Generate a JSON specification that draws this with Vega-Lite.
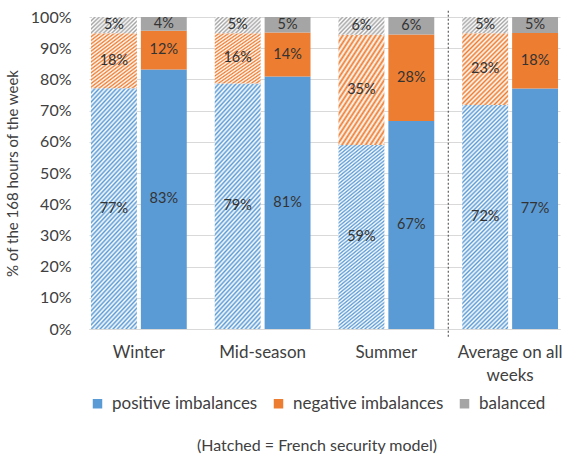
{
  "$schema": "https://vega.github.io/schema/vega-lite/v6.json",
  "width": 471,
  "height": 312,
  "autosize": {"type": "none"},
  "padding": {"left": 89, "top": 17, "right": 9, "bottom": 130},
  "background": "white",
  "config": {
    "font": "Lato",
    "view": {"stroke": null},
    "axis": {"labelFont": "Lato", "titleFont": "Lato", "labelColor": "#404040", "titleColor": "#404040", "labelFontSize": 16, "titleFontSize": 15, "titleFontWeight": "normal"},
    "axisY": {"tickCount": 12, "labelOverlap": false},
    "legend": {"labelFont": "Lato", "titleFont": "Lato"}
  },
  "data": {
    "values": [
      {"season": "Winter", "model": "French security model", "type": "positive imbalances", "share": 0.772},
      {"season": "Winter", "model": "French security model", "type": "negative imbalances", "share": 0.176},
      {"season": "Winter", "model": "French security model", "type": "balanced", "share": 0.052},
      {"season": "Winter", "model": "other model", "type": "positive imbalances", "share": 0.832},
      {"season": "Winter", "model": "other model", "type": "negative imbalances", "share": 0.124},
      {"season": "Winter", "model": "other model", "type": "balanced", "share": 0.044},
      {"season": "Mid-season", "model": "French security model", "type": "positive imbalances", "share": 0.787},
      {"season": "Mid-season", "model": "French security model", "type": "negative imbalances", "share": 0.161},
      {"season": "Mid-season", "model": "French security model", "type": "balanced", "share": 0.052},
      {"season": "Mid-season", "model": "other model", "type": "positive imbalances", "share": 0.809},
      {"season": "Mid-season", "model": "other model", "type": "negative imbalances", "share": 0.141},
      {"season": "Mid-season", "model": "other model", "type": "balanced", "share": 0.05},
      {"season": "Summer", "model": "French security model", "type": "positive imbalances", "share": 0.59},
      {"season": "Summer", "model": "French security model", "type": "negative imbalances", "share": 0.353},
      {"season": "Summer", "model": "French security model", "type": "balanced", "share": 0.057},
      {"season": "Summer", "model": "other model", "type": "positive imbalances", "share": 0.667},
      {"season": "Summer", "model": "other model", "type": "negative imbalances", "share": 0.277},
      {"season": "Summer", "model": "other model", "type": "balanced", "share": 0.056},
      {"season": "Average on all weeks", "model": "French security model", "type": "positive imbalances", "share": 0.718},
      {"season": "Average on all weeks", "model": "French security model", "type": "negative imbalances", "share": 0.23},
      {"season": "Average on all weeks", "model": "French security model", "type": "balanced", "share": 0.052},
      {"season": "Average on all weeks", "model": "other model", "type": "positive imbalances", "share": 0.771},
      {"season": "Average on all weeks", "model": "other model", "type": "negative imbalances", "share": 0.178},
      {"season": "Average on all weeks", "model": "other model", "type": "balanced", "share": 0.051}
    ]
  },
  "layer": [
    {
      "encoding": {
        "x": {
          "field": "season", "type": "nominal",
          "sort": ["Winter", "Mid-season", "Summer", "Average on all weeks"],
          "scale": {"paddingInner": 0.226, "paddingOuter": 0.016},
          "axis": {
            "title": null, "labelAngle": 0, "ticks": false, "domainColor": "#D9D9D9", "labelPadding": 15,
            "labelFontSize": 17, "labelLineHeight": 23,
            "labelExpr": "datum.label == 'Average on all weeks' ? ['Average on all', 'weeks'] : datum.label"
          }
        },
        "xOffset": {
          "field": "model", "type": "nominal",
          "sort": ["French security model", "other model"],
          "scale": {"paddingInner": 0.08, "paddingOuter": 0}
        },
        "y": {
          "field": "share", "type": "quantitative", "stack": "zero",
          "scale": {"domain": [0, 1]},
          "axis": {
            "title": "% of the 168 hours of the week", "format": ".0%",
            "values": [0, 0.1, 0.2, 0.3, 0.4, 0.5, 0.6, 0.7, 0.8, 0.9, 1], "labelOverlap": false, "tickCount": 12,
            "domain": false, "ticks": false, "labelPadding": 18, "gridColor": "#D9D9D9", "titlePadding": 10
          }
        },
        "order": {"field": "type", "sort": "descending"}
      },
      "layer": [
        {
          "mark": {"type": "bar"},
          "encoding": {
            "fill": {
              "field": "type", "type": "nominal",
              "scale": {"domain": ["positive imbalances", "negative imbalances", "balanced"], "range": ["#5B9BD5", "#ED7D31", "#A5A5A5"]},
              "legend": {
                "title": "(Hatched = French security model)", "orient": "bottom", "direction": "horizontal",
                "titleOrient": "bottom", "titleAnchor": "middle", "titleFontSize": 16, "titleFontWeight": "normal", "titleColor": "#404040", "titlePadding": 26, "titleLimit": 500,
                "labelFontSize": 17, "labelColor": "#404040", "labelLimit": 300, "symbolType": "square", "symbolSize": 90, "symbolStrokeWidth": 0,
                "columnPadding": 12, "labelOffset": 6, "offset": 12, "padding": 0
              },
              "condition": [
                {
                  "test": "datum.model === 'French security model' && datum.type === 'positive imbalances'",
                  "value": {"gradient": "linear", "x1": 0, "y1": 0, "x2": 0.2364, "y2": 1.1562, "stops": [
                    {"offset":0,"color":"#5B9BD5"},{"offset":0.008,"color":"#fff"},{"offset":0.016,"color":"#5B9BD5"},{"offset":0.024,"color":"#fff"},{"offset":0.032,"color":"#5B9BD5"},{"offset":0.04,"color":"#fff"},{"offset":0.048,"color":"#5B9BD5"},{"offset":0.056,"color":"#fff"},{"offset":0.064,"color":"#5B9BD5"},{"offset":0.072,"color":"#fff"},
                    {"offset":0.08,"color":"#5B9BD5"},{"offset":0.088,"color":"#fff"},{"offset":0.096,"color":"#5B9BD5"},{"offset":0.104,"color":"#fff"},{"offset":0.112,"color":"#5B9BD5"},{"offset":0.12,"color":"#fff"},{"offset":0.128,"color":"#5B9BD5"},{"offset":0.136,"color":"#fff"},{"offset":0.144,"color":"#5B9BD5"},{"offset":0.152,"color":"#fff"},
                    {"offset":0.16,"color":"#5B9BD5"},{"offset":0.168,"color":"#fff"},{"offset":0.176,"color":"#5B9BD5"},{"offset":0.184,"color":"#fff"},{"offset":0.192,"color":"#5B9BD5"},{"offset":0.2,"color":"#fff"},{"offset":0.208,"color":"#5B9BD5"},{"offset":0.216,"color":"#fff"},{"offset":0.224,"color":"#5B9BD5"},{"offset":0.232,"color":"#fff"},
                    {"offset":0.24,"color":"#5B9BD5"},{"offset":0.248,"color":"#fff"},{"offset":0.256,"color":"#5B9BD5"},{"offset":0.264,"color":"#fff"},{"offset":0.272,"color":"#5B9BD5"},{"offset":0.28,"color":"#fff"},{"offset":0.288,"color":"#5B9BD5"},{"offset":0.296,"color":"#fff"},{"offset":0.304,"color":"#5B9BD5"},{"offset":0.312,"color":"#fff"},
                    {"offset":0.32,"color":"#5B9BD5"},{"offset":0.328,"color":"#fff"},{"offset":0.336,"color":"#5B9BD5"},{"offset":0.344,"color":"#fff"},{"offset":0.352,"color":"#5B9BD5"},{"offset":0.36,"color":"#fff"},{"offset":0.368,"color":"#5B9BD5"},{"offset":0.376,"color":"#fff"},{"offset":0.384,"color":"#5B9BD5"},{"offset":0.392,"color":"#fff"},
                    {"offset":0.4,"color":"#5B9BD5"},{"offset":0.408,"color":"#fff"},{"offset":0.416,"color":"#5B9BD5"},{"offset":0.424,"color":"#fff"},{"offset":0.432,"color":"#5B9BD5"},{"offset":0.44,"color":"#fff"},{"offset":0.448,"color":"#5B9BD5"},{"offset":0.456,"color":"#fff"},{"offset":0.464,"color":"#5B9BD5"},{"offset":0.472,"color":"#fff"},
                    {"offset":0.48,"color":"#5B9BD5"},{"offset":0.488,"color":"#fff"},{"offset":0.496,"color":"#5B9BD5"},{"offset":0.504,"color":"#fff"},{"offset":0.512,"color":"#5B9BD5"},{"offset":0.52,"color":"#fff"},{"offset":0.528,"color":"#5B9BD5"},{"offset":0.536,"color":"#fff"},{"offset":0.544,"color":"#5B9BD5"},{"offset":0.552,"color":"#fff"},
                    {"offset":0.56,"color":"#5B9BD5"},{"offset":0.568,"color":"#fff"},{"offset":0.576,"color":"#5B9BD5"},{"offset":0.584,"color":"#fff"},{"offset":0.592,"color":"#5B9BD5"},{"offset":0.6,"color":"#fff"},{"offset":0.608,"color":"#5B9BD5"},{"offset":0.616,"color":"#fff"},{"offset":0.624,"color":"#5B9BD5"},{"offset":0.632,"color":"#fff"},
                    {"offset":0.64,"color":"#5B9BD5"},{"offset":0.648,"color":"#fff"},{"offset":0.656,"color":"#5B9BD5"},{"offset":0.664,"color":"#fff"},{"offset":0.672,"color":"#5B9BD5"},{"offset":0.68,"color":"#fff"},{"offset":0.688,"color":"#5B9BD5"},{"offset":0.696,"color":"#fff"},{"offset":0.704,"color":"#5B9BD5"},{"offset":0.712,"color":"#fff"},
                    {"offset":0.72,"color":"#5B9BD5"},{"offset":0.728,"color":"#fff"},{"offset":0.736,"color":"#5B9BD5"},{"offset":0.744,"color":"#fff"},{"offset":0.752,"color":"#5B9BD5"},{"offset":0.76,"color":"#fff"},{"offset":0.768,"color":"#5B9BD5"},{"offset":0.776,"color":"#fff"},{"offset":0.784,"color":"#5B9BD5"},{"offset":0.792,"color":"#fff"},
                    {"offset":0.8,"color":"#5B9BD5"},{"offset":0.808,"color":"#fff"},{"offset":0.816,"color":"#5B9BD5"},{"offset":0.824,"color":"#fff"},{"offset":0.832,"color":"#5B9BD5"},{"offset":0.84,"color":"#fff"},{"offset":0.848,"color":"#5B9BD5"},{"offset":0.856,"color":"#fff"},{"offset":0.864,"color":"#5B9BD5"},{"offset":0.872,"color":"#fff"},
                    {"offset":0.88,"color":"#5B9BD5"},{"offset":0.888,"color":"#fff"},{"offset":0.896,"color":"#5B9BD5"},{"offset":0.904,"color":"#fff"},{"offset":0.912,"color":"#5B9BD5"},{"offset":0.92,"color":"#fff"},{"offset":0.928,"color":"#5B9BD5"},{"offset":0.936,"color":"#fff"},{"offset":0.944,"color":"#5B9BD5"},{"offset":0.952,"color":"#fff"},
                    {"offset":0.96,"color":"#5B9BD5"},{"offset":0.968,"color":"#fff"},{"offset":0.976,"color":"#5B9BD5"},{"offset":0.984,"color":"#fff"},{"offset":0.992,"color":"#5B9BD5"},{"offset":1,"color":"#fff"}
                  ]}
                },
                {
                  "test": "datum.model === 'French security model' && datum.type === 'negative imbalances'",
                  "value": {"gradient": "linear", "x1": 0, "y1": 0, "x2": 0.7436, "y2": 1.1639, "stops": [
                    {"offset":0,"color":"#ED7D31"},{"offset":0.02,"color":"#fff"},{"offset":0.04,"color":"#ED7D31"},{"offset":0.06,"color":"#fff"},{"offset":0.08,"color":"#ED7D31"},{"offset":0.1,"color":"#fff"},{"offset":0.12,"color":"#ED7D31"},{"offset":0.14,"color":"#fff"},{"offset":0.16,"color":"#ED7D31"},{"offset":0.18,"color":"#fff"},
                    {"offset":0.2,"color":"#ED7D31"},{"offset":0.22,"color":"#fff"},{"offset":0.24,"color":"#ED7D31"},{"offset":0.26,"color":"#fff"},{"offset":0.28,"color":"#ED7D31"},{"offset":0.3,"color":"#fff"},{"offset":0.32,"color":"#ED7D31"},{"offset":0.34,"color":"#fff"},{"offset":0.36,"color":"#ED7D31"},{"offset":0.38,"color":"#fff"},
                    {"offset":0.4,"color":"#ED7D31"},{"offset":0.42,"color":"#fff"},{"offset":0.44,"color":"#ED7D31"},{"offset":0.46,"color":"#fff"},{"offset":0.48,"color":"#ED7D31"},{"offset":0.5,"color":"#fff"},{"offset":0.52,"color":"#ED7D31"},{"offset":0.54,"color":"#fff"},{"offset":0.56,"color":"#ED7D31"},{"offset":0.58,"color":"#fff"},
                    {"offset":0.6,"color":"#ED7D31"},{"offset":0.62,"color":"#fff"},{"offset":0.64,"color":"#ED7D31"},{"offset":0.66,"color":"#fff"},{"offset":0.68,"color":"#ED7D31"},{"offset":0.7,"color":"#fff"},{"offset":0.72,"color":"#ED7D31"},{"offset":0.74,"color":"#fff"},{"offset":0.76,"color":"#ED7D31"},{"offset":0.78,"color":"#fff"},
                    {"offset":0.8,"color":"#ED7D31"},{"offset":0.82,"color":"#fff"},{"offset":0.84,"color":"#ED7D31"},{"offset":0.86,"color":"#fff"},{"offset":0.88,"color":"#ED7D31"},{"offset":0.9,"color":"#fff"},{"offset":0.92,"color":"#ED7D31"},{"offset":0.94,"color":"#fff"},{"offset":0.96,"color":"#ED7D31"},{"offset":0.98,"color":"#fff"},
                    {"offset":1,"color":"#ED7D31"}
                  ]}
                },
                {
                  "test": "datum.model === 'French security model' && datum.type === 'balanced'",
                  "value": {"gradient": "linear", "x1": 0, "y1": 0, "x2": 1.205, "y2": 0.4453, "stops": [
                    {"offset":0,"color":"#A5A5A5"},{"offset":0.0333,"color":"#fff"},{"offset":0.0667,"color":"#A5A5A5"},{"offset":0.1,"color":"#fff"},{"offset":0.1333,"color":"#A5A5A5"},{"offset":0.1667,"color":"#fff"},{"offset":0.2,"color":"#A5A5A5"},{"offset":0.2333,"color":"#fff"},{"offset":0.2667,"color":"#A5A5A5"},{"offset":0.3,"color":"#fff"},
                    {"offset":0.3333,"color":"#A5A5A5"},{"offset":0.3667,"color":"#fff"},{"offset":0.4,"color":"#A5A5A5"},{"offset":0.4333,"color":"#fff"},{"offset":0.4667,"color":"#A5A5A5"},{"offset":0.5,"color":"#fff"},{"offset":0.5333,"color":"#A5A5A5"},{"offset":0.5667,"color":"#fff"},{"offset":0.6,"color":"#A5A5A5"},{"offset":0.6333,"color":"#fff"},
                    {"offset":0.6667,"color":"#A5A5A5"},{"offset":0.7,"color":"#fff"},{"offset":0.7333,"color":"#A5A5A5"},{"offset":0.7667,"color":"#fff"},{"offset":0.8,"color":"#A5A5A5"},{"offset":0.8333,"color":"#fff"},{"offset":0.8667,"color":"#A5A5A5"},{"offset":0.9,"color":"#fff"},{"offset":0.9333,"color":"#A5A5A5"},{"offset":0.9667,"color":"#fff"},
                    {"offset":1,"color":"#A5A5A5"}
                  ]}
                }
              ]
            }
          }
        },
        {
          "mark": {"type": "text", "font": "Lato", "fontSize": 14.5, "color": "#333333"},
          "encoding": {
            "y": {
              "field": "share", "type": "quantitative", "stack": "zero", "bandPosition": 0.5,
              "axis": {
                "title": "% of the 168 hours of the week", "format": ".0%",
                "values": [0, 0.1, 0.2, 0.3, 0.4, 0.5, 0.6, 0.7, 0.8, 0.9, 1], "labelOverlap": false, "tickCount": 12,
                "domain": false, "ticks": false, "labelPadding": 18, "gridColor": "#D9D9D9", "titlePadding": 10
              }
            },
            "detail": {"field": "type", "type": "nominal"},
            "text": {"field": "share", "type": "quantitative", "format": ".0%"}
          }
        }
      ]
    },
    {
      "data": {"values": [{}]},
      "mark": {"type": "rule", "color": "#404040", "strokeWidth": 1, "strokeDash": [2, 2]},
      "encoding": {
        "x": {"datum": "Average on all weeks", "type": "nominal", "bandPosition": -0.146},
        "y": {
          "datum": 1.02, "type": "quantitative",
          "axis": {
            "title": "% of the 168 hours of the week", "format": ".0%",
            "values": [0, 0.1, 0.2, 0.3, 0.4, 0.5, 0.6, 0.7, 0.8, 0.9, 1], "labelOverlap": false, "tickCount": 12,
            "domain": false, "ticks": false, "labelPadding": 18, "gridColor": "#D9D9D9", "titlePadding": 10
          }
        },
        "y2": {"datum": -0.03}
      }
    }
  ]
}
